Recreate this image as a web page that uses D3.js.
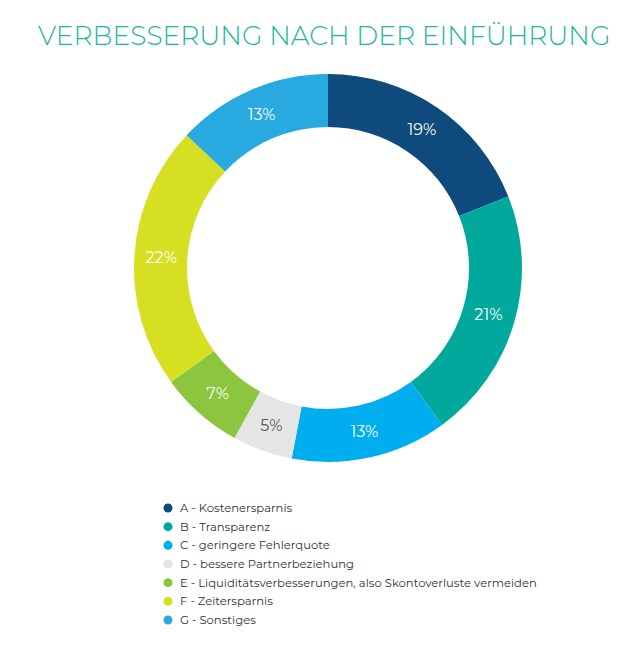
<!DOCTYPE html>
<html><head><meta charset="utf-8">
<script src="https://cdn.jsdelivr.net/npm/d3@7"></script>
<style>body{margin:0;background:#fff;font-family:Montserrat,"Open Sans",sans-serif}</style>
</head><body><svg id="c" width="635" height="647"></svg>
<script>
const categories=["A - Kostenersparnis","B - Transparenz","C - geringere Fehlerquote","D - bessere Partnerbeziehung","E - Liquiditätsverbesserungen, also Skontoverluste vermeiden","F - Zeitersparnis","G - Sonstiges"];
const values=[19,21,13,5,7,22,13];
const colors=["#0e4a7b","#00a99b","#00adef","#e5e5e5","#8cc63e","#d6df22","#28a9e0"];
const svg=d3.select("#c");
svg.append("text").attr("x",38).attr("y",45).attr("fill","#1db6a0").attr("font-size",26.5).attr("font-weight",300).text("VERBESSERUNG NACH DER EINFÜHRUNG");
const g=svg.append("g").attr("transform","translate(328,268)");
const pie=d3.pie().sort(null).value(d=>d)(values);
const arc=d3.arc().innerRadius(141).outerRadius(194);
const lab=d3.arc().innerRadius(167).outerRadius(167);
g.selectAll("path").data(pie).join("path").attr("d",arc).attr("fill",(d,i)=>colors[i]);
g.selectAll("text").data(pie).join("text").attr("transform",d=>`translate(${lab.centroid(d)})`)
 .attr("text-anchor","middle").attr("dy","0.35em").attr("font-size",16)
 .attr("fill",(d,i)=>i===3?"#555":"#fff").text(d=>d.data+"%");
const y=d3.scalePoint().domain(categories).range([508,620]);
const lg=svg.append("g");
lg.selectAll("circle").data(categories).join("circle").attr("cx",168).attr("cy",d=>y(d)).attr("r",4.5).attr("fill",(d,i)=>colors[i]);
lg.selectAll("text").data(categories).join("text").attr("x",180).attr("y",d=>y(d)).attr("dy","0.35em").attr("font-size",11.6).attr("fill","#333").text(d=>d);
</script></body></html>
